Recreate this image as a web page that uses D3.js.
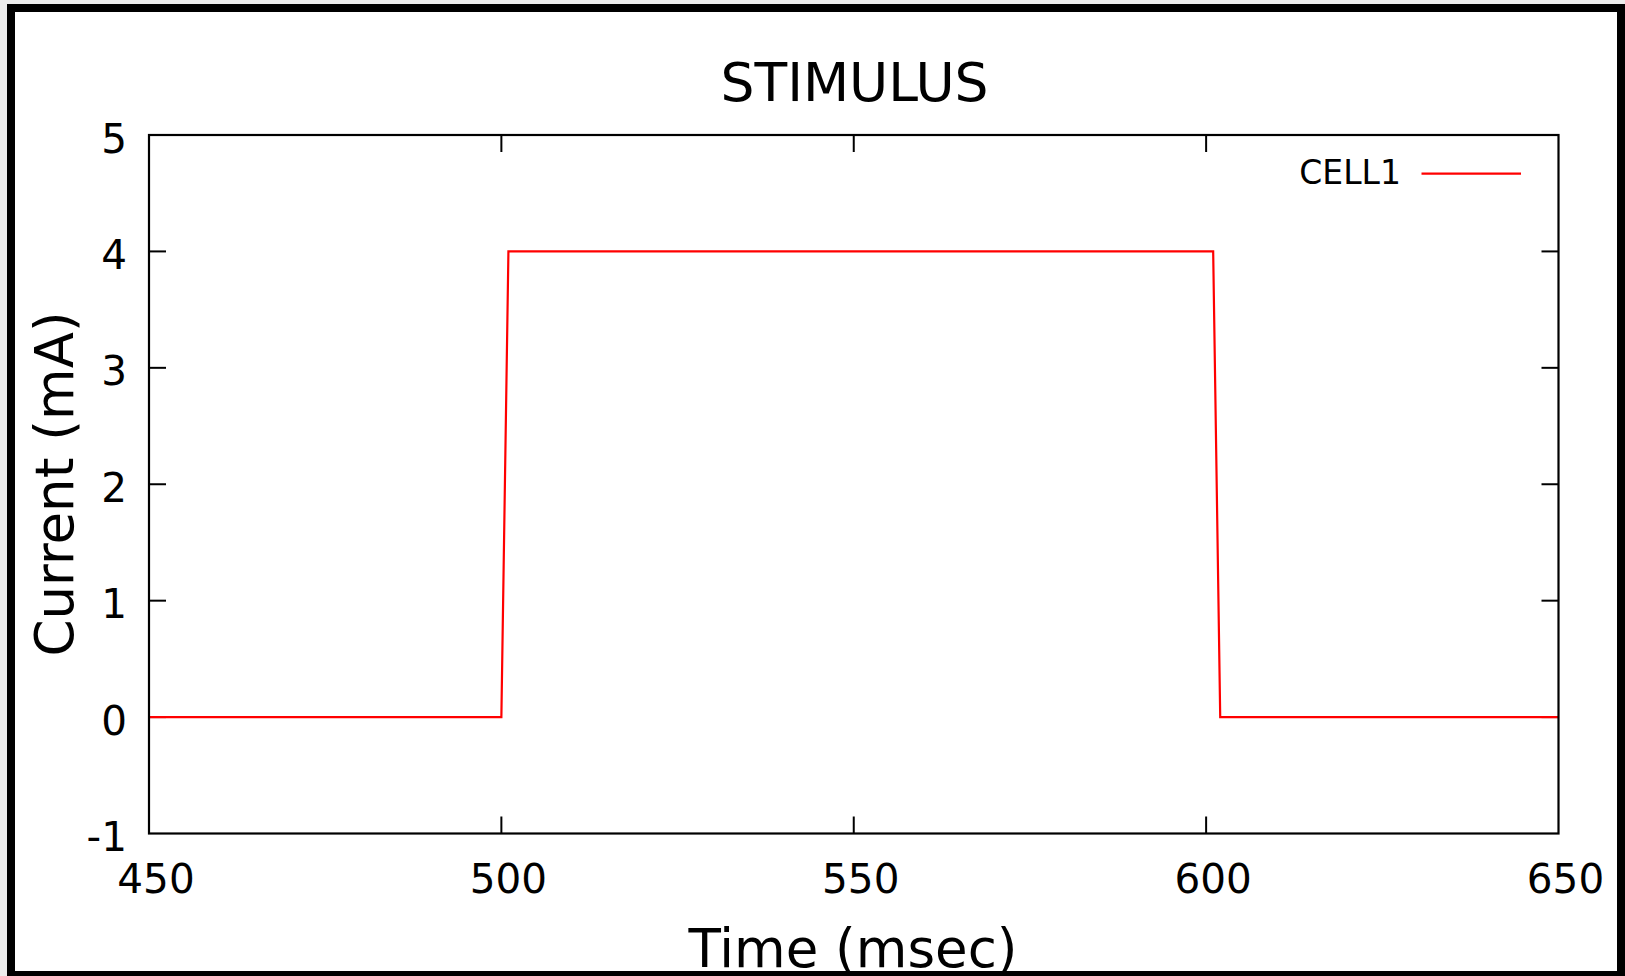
<!DOCTYPE html>
<html>
<head>
<meta charset="utf-8">
<script src="https://cdn.jsdelivr.net/npm/d3@7"></script>
<style>
  html, body { margin: 0; padding: 0; background: #ededed; }
  svg { display: block; }
  text { font-family: "DejaVu Sans", sans-serif; fill: #000; }
</style>
</head>
<body>
<svg id="chart" width="1625" height="976"></svg>
<script>
// ---- data ----
const timeMs = [450, 500, 501, 601, 602, 650];
const currentMA = [0, 0, 4, 4, 0, 0];
const xTicks = [450, 500, 550, 600, 650];
const yTicks = [-1, 0, 1, 2, 3, 4, 5];
const seriesName = "CELL1";
const titleText = "STIMULUS";
const xLabel = "Time (msec)";
const yLabel = "Current (mA)";

const W = 1625, H = 976;
const svg = d3.select("#chart");

// window frame
svg.append("rect").attr("x", 0).attr("y", 0).attr("width", W).attr("height", H).attr("fill", "#ededed");
svg.append("rect").attr("x", 7).attr("y", 4).attr("width", W - 7).attr("height", H - 4).attr("fill", "#000");
svg.append("rect").attr("x", 15).attr("y", 12).attr("width", 1602).attr("height", 959).attr("fill", "#fff");

const plot = { left: 149, right: 1558.5, top: 135, bottom: 833.5 };
const x = d3.scaleLinear().domain([450, 650]).range([plot.left, plot.right]);
const y = d3.scaleLinear().domain([-1, 5]).range([plot.bottom, plot.top]);

const tickLen = 17;

// ticks (inside, mirrored)
const tg = svg.append("g").attr("stroke", "#000").attr("stroke-width", 2);
xTicks.forEach(t => {
  if (t === 450 || t === 650) return;
  tg.append("line").attr("x1", x(t)).attr("x2", x(t)).attr("y1", plot.bottom).attr("y2", plot.bottom - tickLen);
  tg.append("line").attr("x1", x(t)).attr("x2", x(t)).attr("y1", plot.top).attr("y2", plot.top + tickLen);
});
yTicks.forEach(t => {
  if (t === -1 || t === 5) return;
  tg.append("line").attr("x1", plot.left).attr("x2", plot.left + tickLen).attr("y1", y(t)).attr("y2", y(t));
  tg.append("line").attr("x1", plot.right).attr("x2", plot.right - tickLen).attr("y1", y(t)).attr("y2", y(t));
});

// tick labels
svg.append("g").selectAll("text").data(xTicks).join("text")
  .attr("x", d => x(d) + 7).attr("y", 893)
  .attr("text-anchor", "middle").attr("font-size", 40.5).text(d => d);
svg.append("g").selectAll("text").data(yTicks).join("text")
  .attr("x", 127).attr("y", d => y(d) + 17.5)
  .attr("text-anchor", "end").attr("font-size", 40.5).text(d => d);

// data line
const line = d3.line().x((d, i) => x(timeMs[i])).y(d => y(d));
svg.append("path").datum(currentMA)
  .attr("d", line).attr("fill", "none").attr("stroke", "#ff0000").attr("stroke-width", 2.2);

// border
svg.append("rect").attr("x", plot.left).attr("y", plot.top)
  .attr("width", plot.right - plot.left).attr("height", plot.bottom - plot.top)
  .attr("fill", "none").attr("stroke", "#000").attr("stroke-width", 2.2);

// legend
svg.append("text").attr("x", 1401).attr("y", 184).attr("text-anchor", "end")
  .attr("font-size", 33).text(seriesName);
svg.append("line").attr("x1", 1421.5).attr("x2", 1521).attr("y1", 173.7).attr("y2", 173.7)
  .attr("stroke", "#ff0000").attr("stroke-width", 2.2);

// title
svg.append("text").attr("x", 854.5).attr("y", 100.5).attr("text-anchor", "middle")
  .attr("font-size", 53.5).text(titleText);

// axis labels
svg.append("text").attr("x", 853).attr("y", 967).attr("text-anchor", "middle")
  .attr("font-size", 53).text(xLabel);
svg.append("text").attr("transform", "translate(73,484) rotate(-90)")
  .attr("text-anchor", "middle").attr("font-size", 53).text(yLabel);
</script>
</body>
</html>
